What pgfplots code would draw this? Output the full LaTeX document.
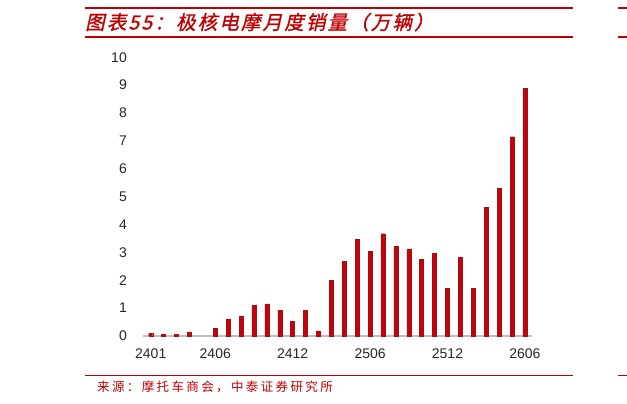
\documentclass[border=0pt]{standalone}
\usepackage{fontspec}
\usepackage{pgfplots}
\pgfplotsset{compat=1.18}
\setmainfont{Liberation Sans}
\newfontfamily\cjktitle[FakeSlant=0.22,FakeBold=1.2,LetterSpace=11]{Noto Sans CJK SC}
\newfontfamily\cjksrc[LetterSpace=19]{Noto Sans CJK SC}
\definecolor{zred}{RGB}{192,0,0}
\definecolor{barfill}{RGB}{204,0,10}
\definecolor{baredge}{RGB}{150,20,20}
\definecolor{axgray}{RGB}{191,191,191}
\begin{document}
\begin{tikzpicture}
\path[use as bounding box] (0pt,0pt) rectangle (627pt,404pt);
% header lines
\draw[zred, line width=2.6pt] (85pt,396pt) -- (572.5pt,396pt);
\draw[zred, line width=2.6pt] (618pt,396pt) -- (627pt,396pt);
\draw[zred, line width=1.1pt] (85pt,367pt) -- (572.5pt,367pt);
\draw[zred, line width=1.1pt] (618pt,367pt) -- (627pt,367pt);
\draw[zred, line width=1pt] (85pt,28pt) -- (572.5pt,28pt);
\draw[zred, line width=1pt] (618pt,28pt) -- (627pt,28pt);
\node[anchor=base west, inner sep=0pt, text=zred] at (85pt,374.5pt)
  {\cjktitle\fontsize{19.5}{22}\selectfont 图表55：极核电摩月度销量（万辆）};
\node[anchor=base west, inner sep=0pt, text=zred] at (97pt,12pt)
  {\cjksrc\fontsize{12.5}{14}\selectfont 来源：摩托车商会，中泰证券研究所};
\begin{axis}[
  at={(143pt,68pt)}, anchor=south west,
  scale only axis, width=389pt, height=278.7pt,
  xmin=-0.6, xmax=29.55, ymin=0, ymax=10,
  axis x line*=bottom, axis y line=none,
  x axis line style={draw=axgray, line width=2pt, -},
  ytick={0,1,...,10},
  xtick={0,5,11,17,23,29},
  xticklabels={2401,2406,2412,2506,2512,2606},
  major tick length=0pt,
  /pgf/number format/assume math mode=true,
  tick label style={font=\fontsize{14}{16}\selectfont, text=black!85},
  xticklabel style={anchor=north, inner sep=0pt, yshift=-13pt},
  clip=false,
]
\pgfplotsextra{%
  \foreach \v in {0,1,...,10}{\node[anchor=east, inner sep=0pt, font=\fontsize{14}{16}\selectfont, text=black!85] at (axis cs:-0.6,\v) [xshift=-16pt] {\v};}%
}
\addplot[ybar, bar width=4pt, fill=barfill, draw=baredge, line width=0.4pt] coordinates {
(0,0.10) (1,0.05) (2,0.07) (3,0.15) (5,0.27) (6,0.60) (7,0.72) (8,1.09)
(9,1.15) (10,0.93) (11,0.52) (12,0.91) (13,0.18) (14,1.99) (15,2.68)
(16,3.46) (17,3.03) (18,3.67) (19,3.21) (20,3.13) (21,2.75) (22,2.96)
(23,1.70) (24,2.81) (25,1.70) (26,4.61) (27,5.30) (28,7.15) (29,8.88)
};
\end{axis}
\end{tikzpicture}
\end{document}
